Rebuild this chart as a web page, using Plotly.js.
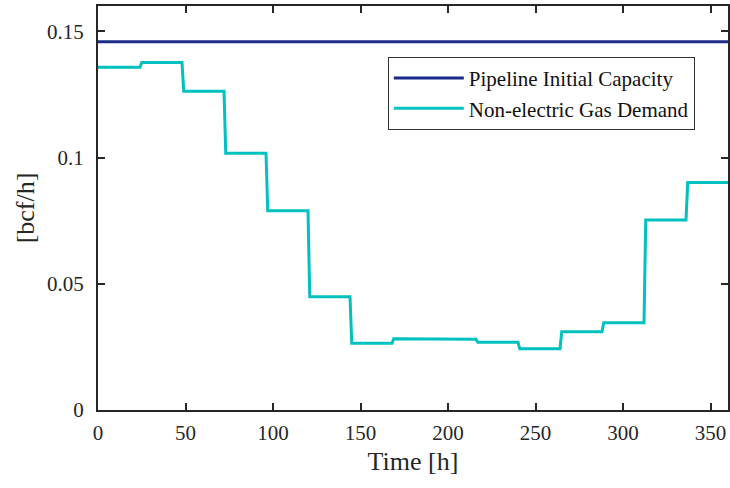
<!DOCTYPE html>
<html>
<head>
<meta charset="utf-8">
<script src="https://cdn.plot.ly/plotly-3.0.1.min.js"></script>
<style>html,body{margin:0;padding:0;background:#fff;}#chart{width:730px;height:488px;}</style>
</head>
<body>
<div id="chart"></div>
<script>
// Data
var stepHours = 24;
var horizon = 360;
var demandValues = [0.1357, 0.1376, 0.1262, 0.1017, 0.0789, 0.0449, 0.0264, 0.0282,
                    0.0280, 0.0268, 0.0243, 0.0310, 0.0346, 0.0752, 0.0901];
var pipelineCapacity = 0.1458;
var seriesNames = ["Pipeline Initial Capacity", "Non-electric Gas Demand"];
var xTicks = [0, 50, 100, 150, 200, 250, 300, 350];
var yTicks = [0, 0.05, 0.1, 0.15];
var yTickLabels = ["0", "0.05", "0.1", "0.15"];

// Build hourly step profile (each period holds its value; change occurs over one hour)
var dx = [], dy = [];
for (var i = 0; i < demandValues.length; i++) {
  var start = i * stepHours + (i > 0 ? 1 : 0);
  var end = Math.min((i + 1) * stepHours, horizon);
  dx.push(start, end);
  dy.push(demandValues[i], demandValues[i]);
}

var serif = "Liberation Serif, Times New Roman, serif";
var traces = [
  {x: [0, horizon], y: [pipelineCapacity, pipelineCapacity], mode: "lines",
   name: seriesNames[0], line: {color: "#1b2a87", width: 3}},
  {x: dx, y: dy, mode: "lines", name: seriesNames[1],
   line: {color: "#00c0c0", width: 3}}
];

var axisCommon = {
  showline: true, linecolor: "#262626", linewidth: 2, mirror: "ticks",
  ticks: "inside", ticklen: 7, tickwidth: 2, tickcolor: "#262626",
  showgrid: false, zeroline: false,
  tickfont: {family: serif, size: 21, color: "#262626"}
};

var layout = {
  width: 730, height: 488,
  margin: {l: 98, r: 2, t: 6, b: 78},
  paper_bgcolor: "#fff", plot_bgcolor: "#fff",
  showlegend: true,
  xaxis: Object.assign({}, axisCommon, {
    range: [0, horizon], tickvals: xTicks, ticklabelstandoff: 3,
    title: {text: "Time [h]", font: {family: serif, size: 26, color: "#262626"}, standoff: 8}
  }),
  yaxis: Object.assign({}, axisCommon, {
    range: [0, 0.16], tickvals: yTicks, ticktext: yTickLabels, ticklabelstandoff: 8,
    title: {text: "[bcf/h]", font: {family: serif, size: 26, color: "#262626"}, standoff: 5}
  }),
  legend: {
    x: 0.46, y: 0.874, xanchor: "left", yanchor: "top",
    bgcolor: "#fff", bordercolor: "#333", borderwidth: 1,
    font: {family: serif, size: 21, color: "#111"},
    itemwidth: 70, tracegroupgap: 0
  }
};

Plotly.newPlot("chart", traces, layout, {displayModeBar: false, staticPlot: true});
</script>
</body>
</html>
